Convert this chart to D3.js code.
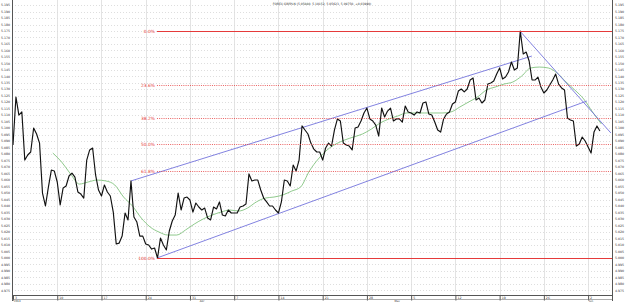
<!DOCTYPE html>
<html>
<head>
<meta charset="utf-8">
<script src="https://cdn.jsdelivr.net/npm/d3@7"></script>
<style>
  html, body { margin: 0; padding: 0; background: #fff; }
  svg { display: block; font-family: "DejaVu Sans", sans-serif; }
</style>
</head>
<body>
<svg id="chart" width="640" height="302"></svg>
<script>
// price series, one value every 1/3 trading day starting Mon 3 Mar 2014
const prices = [
  5.0871, 5.1241, 5.1102, 5.1126, 5.0755, 5.0794, 5.0817, 5.1002, 5.0956, 5.0886,
  5.0501, 5.0401, 5.0547, 5.0678, 5.0671, 5.0586, 5.0409, 5.0540, 5.0555, 5.0632,
  5.0655, 5.0624, 5.0509, 5.0493, 5.0462, 5.0755, 5.0833, 5.0848, 5.0640, 5.0524,
  5.0478, 5.0563, 5.0509, 5.0478, 5.0354, 5.0108, 5.0115, 5.0169, 5.0347, 5.0293,
  5.0594, 5.0316, 5.0277, 5.0169, 5.0169, 5.0108, 5.0100, 5.0069, 5.0077, 5.0000,
  5.0154, 5.0100, 5.0062, 5.0208, 5.0285, 5.0331, 5.0501, 5.0370, 5.0462, 5.0470,
  5.0447, 5.0354, 5.0424, 5.0393, 5.0370, 5.0385, 5.0308, 5.0293, 5.0393, 5.0378,
  5.0432, 5.0331, 5.0324, 5.0370, 5.0347, 5.0347, 5.0347, 5.0393, 5.0401, 5.0416,
  5.0648, 5.0594, 5.0601, 5.0601, 5.0524, 5.0462, 5.0432, 5.0401, 5.0401, 5.0370,
  5.0347, 5.0432, 5.0601, 5.0594, 5.0555, 5.0717, 5.0671, 5.0755, 5.1018, 5.0987,
  5.0956, 5.0886, 5.0840, 5.0817, 5.0817, 5.0755, 5.0848, 5.0886, 5.0863, 5.0987,
  5.1072, 5.1056, 5.0886, 5.0871, 5.0863, 5.0833, 5.1002, 5.1010, 5.1056, 5.1118,
  5.1156, 5.1072, 5.1056, 5.1025, 5.0940, 5.1156, 5.1087, 5.1133, 5.1156, 5.1056,
  5.1072, 5.1072, 5.1048, 5.1172, 5.1126, 5.1118, 5.1102, 5.1126, 5.1118, 5.1195,
  5.1203, 5.1110, 5.1102, 5.1048, 5.0987, 5.0971, 5.1072, 5.1110, 5.1126, 5.1187,
  5.1203, 5.1287, 5.1303, 5.1280, 5.1303, 5.1372, 5.1388, 5.1218, 5.1233, 5.1195,
  5.1218, 5.1341, 5.1349, 5.1364, 5.1418, 5.1465, 5.1380, 5.1395, 5.1434, 5.1511,
  5.1449, 5.1465, 5.1750, 5.1573, 5.1588, 5.1519, 5.1372, 5.1372, 5.1395, 5.1318,
  5.1272, 5.1295, 5.1334, 5.1372, 5.1418, 5.1341, 5.1311, 5.1295, 5.1079, 5.1064,
  5.1056, 5.0863, 5.0879, 5.0933, 5.0902, 5.0856, 5.0809, 5.0971, 5.1018, 5.0979
];
const priceStep = 1 / 3;

// green average line, one value per trading day starting at day 4.5
const maStart = 4.5;
const maValues = [
  5.0809, 5.0740, 5.0648, 5.0570, 5.0586, 5.0601, 5.0594, 5.0563, 5.0470, 5.0401,
  5.0308, 5.0239, 5.0200, 5.0177, 5.0177, 5.0216, 5.0262, 5.0301, 5.0331, 5.0354,
  5.0370, 5.0362, 5.0385, 5.0432, 5.0462, 5.0470, 5.0486, 5.0516, 5.0547, 5.0671,
  5.0763, 5.0833, 5.0879, 5.0910, 5.0933, 5.0956, 5.0994, 5.1041, 5.1072, 5.1095,
  5.1118, 5.1118, 5.1118, 5.1118, 5.1118, 5.1126, 5.1164, 5.1203, 5.1241, 5.1295,
  5.1318, 5.1341, 5.1357, 5.1403, 5.1465, 5.1472, 5.1465, 5.1426, 5.1357, 5.1295,
  5.1226, 5.1126, 5.1033
];

// trend lines: [day, price] end points
const channelUpper = [[13.33, 5.0594], [58.64, 5.1557]];
const channelLower = [[16.27, 5.0000], [64.86, 5.1210]];
const downTrend = [[57.29, 5.1750], [67.57, 5.0964]];

// fibonacci retracement
const fibHigh = 5.175;
const fibLow = 5.000;
const fibStartDay = 16.27;
const fibLevels = [0, 0.236, 0.382, 0.5, 0.618, 1];
const fibLabels = ["0.0%", "23.6%", "38.2%", "50.0%", "61.8%", "100.0%"];

// x axis: trading-day index of each Monday, and month marks
const weekTicks = [0, 5, 10, 15, 20, 25, 30, 35, 40, 45, 50, 55, 60, 65];
const weekLabels = ["3", "10", "17", "24", "31", "7", "14", "21", "28", "5", "12", "19", "26", "2"];
const monthTicks = [0, 21, 43, 65];
const monthLabels = ["2014", "Apr", "May", "Jun"];

const yTicks = d3.range(4.975, 5.1951, 0.005);
const title = "FOREX GBPPLN (5.05880, 5.10152, 5.05623, 5.09750, +0.03990)";

const svg = d3.select("#chart");
const left = 12, right = 612, bottom = 295;

const x = d3.scaleLinear().domain([0, 67.7]).range([13, 612]);
const y = d3.scaleLinear().domain([5.000, 5.175]).range([258, 31]);

svg.append("defs").append("clipPath").attr("id", "plot")
  .append("rect").attr("x", left).attr("y", 0)
  .attr("width", right - left).attr("height", bottom);

// Horizontal dotted grid
svg.append("g")
  .selectAll("line")
  .data(yTicks)
  .join("line")
  .attr("x1", left).attr("x2", right)
  .attr("y1", d => Math.round(y(d)) + 0.5)
  .attr("y2", d => Math.round(y(d)) + 0.5)
  .attr("stroke", "#c8c8c8")
  .attr("stroke-width", 0.6)
  .attr("stroke-dasharray", "1,2");

// Vertical week grid
svg.append("g")
  .selectAll("line")
  .data(weekTicks.slice(1))
  .join("line")
  .attr("x1", d => Math.round(x(d)) + 0.5)
  .attr("x2", d => Math.round(x(d)) + 0.5)
  .attr("y1", 0).attr("y2", bottom)
  .attr("stroke", "#dcdcdc")
  .attr("stroke-width", 0.8);

// Y labels on both sides
const fmt = d3.format(".3f");
[1, 615].forEach(lx => {
  svg.append("g")
    .selectAll("text")
    .data(yTicks)
    .join("text")
    .attr("x", lx)
    .attr("y", d => y(d) + 1.1)
    .attr("font-size", 3.2)
    .attr("fill", "#333")
    .text(d => fmt(d));
});

const plot = svg.append("g").attr("clip-path", "url(#plot)");

const line = d3.line().x(d => x(d[0])).y(d => y(d[1]));

// Green average
plot.append("path")
  .datum(maValues.map((v, i) => [maStart + i, v]))
  .attr("fill", "none")
  .attr("stroke", "#72bb6e")
  .attr("stroke-width", 0.8)
  .attr("d", line.curve(d3.curveMonotoneX));

line.curve(d3.curveLinear);

// Fibonacci levels (drawn under the price, outside the clip group)
const fib = svg.append("g");
fibLevels.forEach((lv, i) => {
  const py = Math.round(y(fibHigh - (fibHigh - fibLow) * lv));
  const solid = lv === 0 || lv === 1;
  if (solid) {
    fib.append("rect")
      .attr("x", x(fibStartDay)).attr("y", py)
      .attr("width", right - x(fibStartDay)).attr("height", 1)
      .attr("fill", "#e53a3a")
      .attr("shape-rendering", "crispEdges");
  } else {
    fib.append("line")
      .attr("x1", x(fibStartDay)).attr("x2", right)
      .attr("y1", py + 0.5).attr("y2", py + 0.5)
      .attr("stroke", "#e53a3a")
      .attr("stroke-width", 0.8)
      .attr("stroke-dasharray", "1,1.2");
  }
  fib.append("text")
    .attr("x", x(fibStartDay) - 2)
    .attr("y", py + 2)
    .attr("text-anchor", "end")
    .attr("font-size", 4.4)
    .attr("fill", "#e53a3a")
    .text(fibLabels[i]);
});

// Trend lines
[channelUpper, channelLower, downTrend].forEach(seg => {
  plot.append("path")
    .datum(seg)
    .attr("fill", "none")
    .attr("stroke", "#7474dc")
    .attr("stroke-width", 0.9)
    .attr("d", line);
});

// Price
plot.append("path")
  .datum(prices.map((v, i) => [i * priceStep, v]))
  .attr("fill", "none")
  .attr("stroke", "#111")
  .attr("stroke-width", 1.15)
  .attr("stroke-linejoin", "round")
  .attr("d", line);

// Frame lines
svg.append("line").attr("x1", left + 0.5).attr("x2", left + 0.5)
  .attr("y1", 0).attr("y2", 301).attr("stroke", "#555").attr("stroke-width", 1);
svg.append("line").attr("x1", right + 0.5).attr("x2", right + 0.5)
  .attr("y1", 0).attr("y2", 301).attr("stroke", "#555").attr("stroke-width", 1);

// Bottom axis
const xAxis = d3.axisBottom(x)
  .tickValues(weekTicks)
  .tickSize(5)
  .tickFormat((d, i) => weekLabels[i]);

const axisG = svg.append("g")
  .attr("transform", `translate(0,${bottom + 0.5})`)
  .call(xAxis);

axisG.select(".domain")
  .attr("d", `M${left},0H${right}`)
  .attr("stroke", "#555");

axisG.selectAll(".tick line")
  .attr("stroke", "#555");

axisG.selectAll(".tick text")
  .attr("y", 3.3)
  .attr("dy", 0)
  .attr("x", 1.5)
  .attr("text-anchor", "start")
  .attr("font-size", 3.2)
  .attr("font-family", "DejaVu Sans, sans-serif")
  .attr("fill", "#333");

svg.append("line").attr("x1", left).attr("x2", right)
  .attr("y1", 299.5).attr("y2", 299.5).attr("stroke", "#777").attr("stroke-width", 0.6);

svg.append("g")
  .selectAll("text")
  .data(monthTicks)
  .join("text")
  .attr("x", d => x(d) + 1)
  .attr("y", 301.9)
  .attr("font-size", 2.6)
  .attr("fill", "#333")
  .text((d, i) => monthLabels[i]);

// Title
svg.append("text")
  .attr("x", 322)
  .attr("y", 5)
  .attr("text-anchor", "middle")
  .attr("font-size", 3)
  .attr("fill", "#333")
  .text(title);
</script>
</body>
</html>
